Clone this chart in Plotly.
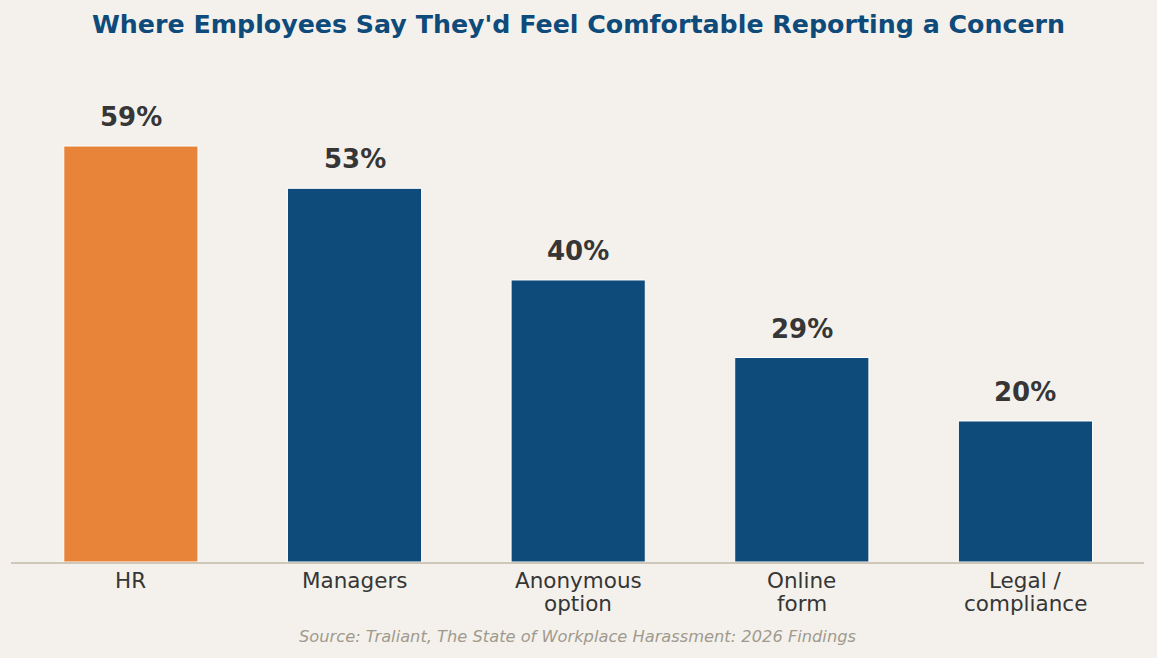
"""Bar chart: where employees say they'd feel comfortable reporting a concern"""

import plotly.graph_objects as go

# Data
categories = ["HR", "Managers", "Anonymous option", "Online form", "Legal / compliance"]
tick_lines = [["HR"], ["Managers"], ["Anonymous", "option"], ["Online", "form"], ["Legal /", "compliance"]]
shares = [59, 53, 40, 29, 20]
highlight = "HR"

BG = "#F4F1EC"
ORANGE = "#E8833A"
BLUE = "#0E4A7A"
TEXT = "#363636"
FONT = "DejaVu Sans"

bar_colors = [ORANGE if c == highlight else BLUE for c in categories]

fig = go.Figure(go.Bar(
    x=categories,
    y=shares,
    width=0.6,
    marker=dict(color=bar_colors, line=dict(color="white", width=1)),
    hoverinfo="skip",
))

# Value labels above each bar
for cat, val in zip(categories, shares):
    fig.add_annotation(
        x=cat, y=val, text="{}%".format(val),
        showarrow=False, yanchor="bottom", yshift=12,
        font=dict(family=FONT, size=26, color=TEXT, weight="bold"),
    )

# Category labels drawn line by line (tighter spacing than tick labels allow)
for cat, lines in zip(categories, tick_lines):
    for i, line in enumerate(lines):
        fig.add_annotation(
            x=cat, y=0, yref="paper", text=line,
            showarrow=False, yanchor="middle", yshift=-18 - 23 * i,
            font=dict(family=FONT, size=21.5, color=TEXT),
        )

# Source line
fig.add_annotation(
    text="<i>Source: Traliant, The State of Workplace Harassment: 2026 Findings</i>",
    xref="paper", yref="paper", x=0.5, y=0, yshift=-74,
    xanchor="center", yanchor="middle", showarrow=False,
    font=dict(family=FONT, size=16.25, color="#A09A8E"),
)

fig.update_layout(
    width=1157, height=658,
    paper_bgcolor=BG, plot_bgcolor=BG,
    margin=dict(l=11, r=13, t=60, b=96),
    title=dict(
        text="<b>Where Employees Say They'd Feel Comfortable Reporting a Concern</b>",
        x=0.5, xanchor="center", y=0.963, yanchor="middle",
        font=dict(family=FONT, size=25.3, color=BLUE),
    ),
    font=dict(family=FONT, color=TEXT),
    showlegend=False,
    bargap=0.4,
)

fig.update_xaxes(
    range=[-0.536, 4.53],
    showline=True, linecolor="#CFC7BA", linewidth=1.5,
    ticks="", showgrid=False, showticklabels=False,
)
fig.update_yaxes(
    range=[0, 71.2], visible=False, showgrid=False, zeroline=False,
)

# drop the default page margin so the figure fills the window
fig.write_html(
    "out.html",
    config={"displayModeBar": False},
    post_script="document.body.style.margin='0';"
                "document.body.style.background='" + BG + "';",
)
